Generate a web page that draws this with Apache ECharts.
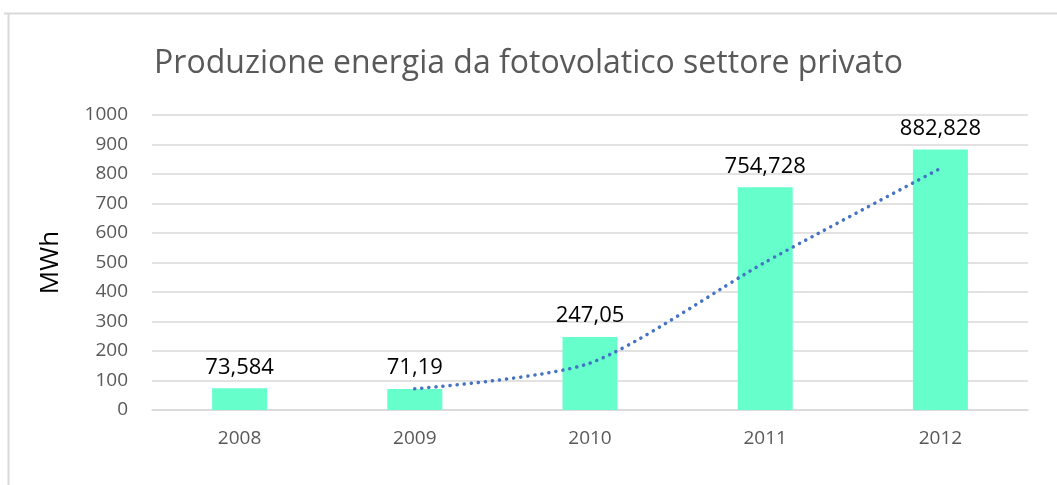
<!DOCTYPE html>
<html>
<head>
<meta charset="utf-8">
<script src="https://cdn.jsdelivr.net/npm/echarts@6/dist/echarts.min.js"></script>
<style>
  html, body { margin: 0; padding: 0; background: #fff; }
  #chart { width: 1057px; height: 485px; }
</style>
</head>
<body>
<div id="chart"></div>
<script>
// dati
var years = ['2008', '2009', '2010', '2011', '2012'];
var produzione = [73.584, 71.19, 247.05, 754.728, 882.828];
var etichette = ['73,584', '71,19', '247,05', '754,728', '882,828'];
// linea di tendenza (media mobile a 2 periodi)
var tendenza = [null, 72, 159, 501, 819];

var chart = echarts.init(document.getElementById('chart'));

chart.setOption({
  animation: false,
  title: {
    text: 'Produzione energia da fotovolatico settore privato',
    left: 'center',
    top: 43,
    textStyle: {
      fontFamily: 'Open Sans',
      fontWeight: 'normal',
      fontSize: 32,
      color: '#595959'
    }
  },
  graphic: [
    { type: 'line', shape: { x1: 4, y1: 13.5, x2: 1057, y2: 13.5 }, style: { stroke: '#d9d9d9', lineWidth: 2 } },
    { type: 'line', shape: { x1: 8.5, y1: 13, x2: 8.5, y2: 485 }, style: { stroke: '#d9d9d9', lineWidth: 2 } }
  ],
  grid: {
    left: 152,
    right: 29,
    top: 115,
    bottom: 75
  },
  xAxis: {
    type: 'category',
    data: years,
    axisLine: { lineStyle: { color: '#d9d9d9', width: 1.5 } },
    axisTick: { show: false },
    axisLabel: {
      color: '#595959',
      fontSize: 19,
      fontFamily: 'Open Sans',
      margin: 19
    }
  },
  yAxis: {
    type: 'value',
    min: 0,
    max: 1000,
    interval: 100,
    name: 'MWh',
    nameLocation: 'middle',
    nameGap: 88,
    nameTextStyle: {
      color: '#000',
      fontSize: 26,
      fontFamily: 'Open Sans'
    },
    axisLine: { show: false },
    axisTick: { show: false },
    splitLine: { lineStyle: { color: '#d9d9d9', width: 1.5 } },
    axisLabel: {
      color: '#595959',
      fontSize: 19,
      fontFamily: 'Open Sans',
      margin: 24,
      formatter: function (v) { return String(v); }
    }
  },
  series: [
    {
      name: 'Produzione',
      type: 'bar',
      data: produzione,
      barWidth: 55,
      itemStyle: { color: '#66ffcc' },
      label: {
        show: true,
        position: 'top',
        distance: 10,
        color: '#000',
        fontSize: 22,
        fontFamily: 'Open Sans',
        formatter: function (p) { return etichette[p.dataIndex]; }
      }
    },
    {
      name: 'Tendenza',
      type: 'line',
      data: tendenza,
      smooth: 0.25,
      symbol: 'none',
      lineStyle: { color: '#4472c4', width: 3.5, type: [0.1, 7], cap: 'round' },
      z: 3
    }
  ]
});
</script>
</body>
</html>
